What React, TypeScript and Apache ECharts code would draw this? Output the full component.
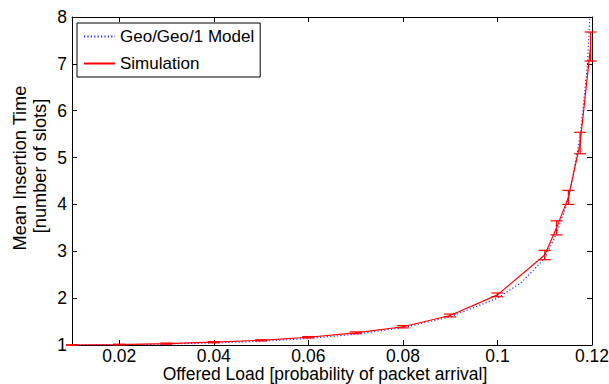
import React, { useEffect, useRef } from "react";
import * as echarts from "echarts";

const xTicks = [0.02, 0.04, 0.06, 0.08, 0.1, 0.12];
const yTicks = [1, 2, 3, 4, 5, 6, 7, 8];

const modelX = [0.01, 0.02, 0.03, 0.04, 0.05, 0.06, 0.07, 0.08, 0.09, 0.1, 0.105, 0.11, 0.1125, 0.115, 0.1175, 0.119, 0.1195, 0.12];
const modelY = [1.0, 1.005, 1.02, 1.045, 1.08, 1.14, 1.23, 1.37, 1.6, 2.0, 2.33, 2.85, 3.38, 4.1, 5.45, 6.95, 7.9, 8.6];

const simX = [0.01, 0.02, 0.03, 0.04, 0.05, 0.06, 0.07, 0.08, 0.09, 0.1, 0.11, 0.1125, 0.115, 0.1175, 0.1197];
const simY = [1.0, 1.01, 1.03, 1.06, 1.1, 1.165, 1.26, 1.39, 1.63, 2.07, 2.92, 3.5, 4.15, 5.31, 7.37];
const simErr = [0.005, 0.008, 0.012, 0.012, 0.012, 0.015, 0.02, 0.025, 0.03, 0.04, 0.1, 0.15, 0.15, 0.23, 0.31];

const FONT = "'Liberation Sans', Arial, Helvetica, sans-serif";
const FS = 17.5;

export default function App() {
  const ref = useRef<HTMLDivElement>(null);
  useEffect(() => {
    const chart = echarts.init(ref.current!, null, { renderer: "svg" });
    const left = 72, right = 17, top = 17, bottom = 39;
    const tickFmt = (v: number) => String(parseFloat(v.toFixed(4)));
    chart.setOption({
      animation: false,
      backgroundColor: "#fff",
      grid: { left, right, top, bottom, containLabel: false, outerBoundsMode: "none" },
      textStyle: { fontFamily: FONT },
      legend: {
        left: 77,
        top: 23,
        orient: "vertical",
        backgroundColor: "#fff",
        borderColor: "#000",
        borderWidth: 1,
        borderRadius: 0,
        padding: [5, 6, 5, 6],
        itemGap: 10,
        itemWidth: 31,
        itemHeight: 14,
        itemStyle: { opacity: 0 },
        textStyle: { fontSize: 17, color: "#000", fontFamily: FONT },
        data: ["Geo/Geo/1 Model", "Simulation"],
      },
      xAxis: [
        {
          type: "value",
          min: 0.01,
          max: 0.12,
          axisLine: { show: true, onZero: false, lineStyle: { color: "#000", width: 1 } },
          axisTick: { show: true, inside: true, length: 5, customValues: xTicks, lineStyle: { color: "#000" } },
          axisLabel: { show: true, customValues: xTicks, formatter: tickFmt, fontSize: FS, lineHeight: 15, color: "#000", margin: 3, fontFamily: FONT },
          splitLine: { show: false },
          name: "Offered Load [probability of packet arrival]",
          nameLocation: "middle",
          nameGap: 21,
          nameMoveOverlap: false,
          nameTextStyle: { fontSize: FS, lineHeight: 16, color: "#000", fontFamily: FONT, padding: [0, 14, 0, 0] },
        },
        {
          type: "value",
          position: "top",
          min: 0.01,
          max: 0.12,
          axisLine: { show: true, onZero: false, lineStyle: { color: "#000", width: 1 } },
          axisTick: { show: true, inside: true, length: 5, customValues: xTicks, lineStyle: { color: "#000" } },
          axisLabel: { show: false },
          splitLine: { show: false },
        },
      ],
      yAxis: [
        {
          type: "value",
          min: 1,
          max: 8,
          interval: 1,
          axisLine: { show: true, onZero: false, lineStyle: { color: "#000", width: 1 } },
          axisTick: { show: true, inside: true, length: 5, lineStyle: { color: "#000" } },
          axisLabel: { fontSize: FS, color: "#000", margin: 5, fontFamily: FONT },
          splitLine: { show: false },
        },
        {
          type: "value",
          position: "right",
          min: 1,
          max: 8,
          interval: 1,
          axisLine: { show: true, onZero: false, lineStyle: { color: "#000", width: 1 } },
          axisTick: { show: true, inside: true, length: 5, lineStyle: { color: "#000" } },
          axisLabel: { show: false },
          splitLine: { show: false },
        },
      ],
      graphic: [
        {
          type: "text",
          x: 20,
          y: 168,
          rotation: Math.PI / 2,
          style: { text: "Mean Insertion Time", fontSize: 18.2, fill: "#000", fontFamily: FONT, align: "center", verticalAlign: "middle" },
        },
        {
          type: "text",
          x: 40,
          y: 166,
          rotation: Math.PI / 2,
          style: { text: "[number of slots]", fontSize: 18.2, fill: "#000", fontFamily: FONT, align: "center", verticalAlign: "middle" },
        },
      ],
      series: [
        {
          name: "Geo/Geo/1 Model",
          type: "line",
          data: modelX.map((x, i) => [x, modelY[i]]),
          symbol: "none",
          lineStyle: { color: "#2b2bff", width: 1.2, type: [1.2, 2.2] },
          itemStyle: { color: "#2b2bff" },
          z: 2,
        },
        {
          name: "Simulation",
          type: "line",
          data: simX.map((x, i) => [x, simY[i]]),
          symbol: "none",
          lineStyle: { color: "#ff0000", width: 1.2 },
          itemStyle: { color: "#ff0000" },
          z: 3,
        },
        {
          name: "errbars",
          type: "custom",
          data: simX.map((x, i) => [x, simY[i] - simErr[i], simY[i] + simErr[i]]),
          encode: { x: 0, y: [1, 2] },
          z: 4,
          renderItem: (params: any, api: any) => {
            const x = api.value(0);
            const lo = api.coord([x, api.value(1)]);
            const hi = api.coord([x, api.value(2)]);
            const w = 6;
            const style = { stroke: "#ff0000", lineWidth: 1.2 };
            return {
              type: "group",
              children: [
                { type: "line", shape: { x1: lo[0], y1: lo[1], x2: hi[0], y2: hi[1] }, style },
                { type: "line", shape: { x1: lo[0] - w, y1: lo[1], x2: lo[0] + w, y2: lo[1] }, style },
                { type: "line", shape: { x1: hi[0] - w, y1: hi[1], x2: hi[0] + w, y2: hi[1] }, style },
              ],
            };
          },
        },
      ],
    });
    return () => chart.dispose();
  }, []);
  return <div ref={ref} style={{ width: 609, height: 384, position: "absolute", left: 0, top: 0 }} />;
}
